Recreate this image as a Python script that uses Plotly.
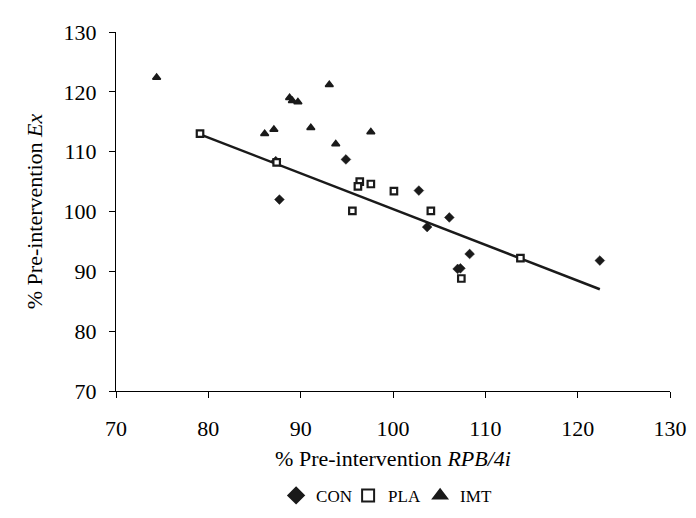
import plotly.graph_objects as go

con_x = [87.3, 94.9, 87.7, 102.8, 106.1, 103.7, 108.3, 107.0, 107.3, 122.4]
con_y = [108.4, 108.7, 102.0, 103.5, 99.0, 97.4, 92.9, 90.4, 90.5, 91.8]
pla_x = [79.1, 87.4, 96.4, 96.2, 97.6, 100.1, 95.6, 104.1, 107.4, 113.8]
pla_y = [113.0, 108.2, 105.0, 104.2, 104.6, 103.4, 100.1, 100.1, 88.8, 92.2]
imt_x = [74.4, 93.1, 88.8, 89.1, 89.7, 86.1, 87.1, 91.1, 97.6, 93.8]
imt_y = [122.4, 121.2, 119.0, 118.5, 118.3, 113.0, 113.7, 114.0, 113.3, 111.3]
trend_x = [79.1, 122.4]
trend_y = [112.9, 87.0]
ticks = [70, 80, 90, 100, 110, 120, 130]

font = "Liberation Serif, Times New Roman, serif"
ink = "#1a1a1a"
fig = go.Figure()
fig.add_trace(go.Scatter(x=trend_x, y=trend_y, mode="lines",
                         line=dict(color=ink, width=2.5), showlegend=False, hoverinfo="skip"))
fig.add_trace(go.Scatter(x=con_x, y=con_y, mode="markers", name="CON",
                         marker=dict(symbol="diamond", size=7.5, color=ink,
                                     line=dict(color=ink, width=0.5))))
fig.add_trace(go.Scatter(x=pla_x, y=pla_y, mode="markers", name="PLA",
                         marker=dict(symbol="square", size=6.5, color="white",
                                     line=dict(color=ink, width=2.2))))
fig.add_trace(go.Scatter(x=imt_x, y=imt_y, mode="markers", name="IMT",
                         marker=dict(symbol="triangle-up", size=7, color=ink,
                                     line=dict(color=ink, width=1.5))))

axis_common = dict(range=[70, 130], tickvals=ticks, ticks="outside", ticklen=6,
                   tickcolor="black", showline=True, linecolor="black", linewidth=1,
                   showgrid=False, zeroline=False,
                   tickfont=dict(family=font, size=22, color="black"))
fig.update_xaxes(**axis_common, ticklabelstandoff=12,
                 title=dict(text="% Pre-intervention <i>RPB/4i</i>",
                            font=dict(family=font, size=22, color="black"), standoff=10))
fig.update_yaxes(**axis_common, ticklabelstandoff=8,
                 title=dict(text="% Pre-intervention <i>Ex</i>",
                            font=dict(family=font, size=22, color="black"), standoff=14))
fig.update_layout(
    width=696, height=518,
    margin=dict(l=108, r=34, t=18, b=120),
    plot_bgcolor="white", paper_bgcolor="white",
    legend=dict(orientation="h", x=0.289, xanchor="left", y=-0.292, yanchor="middle",
                font=dict(family=font, size=17, color="black"), itemsizing="constant",
                entrywidth=27, tracegroupgap=0),
)
fig.write_html("out.html")
